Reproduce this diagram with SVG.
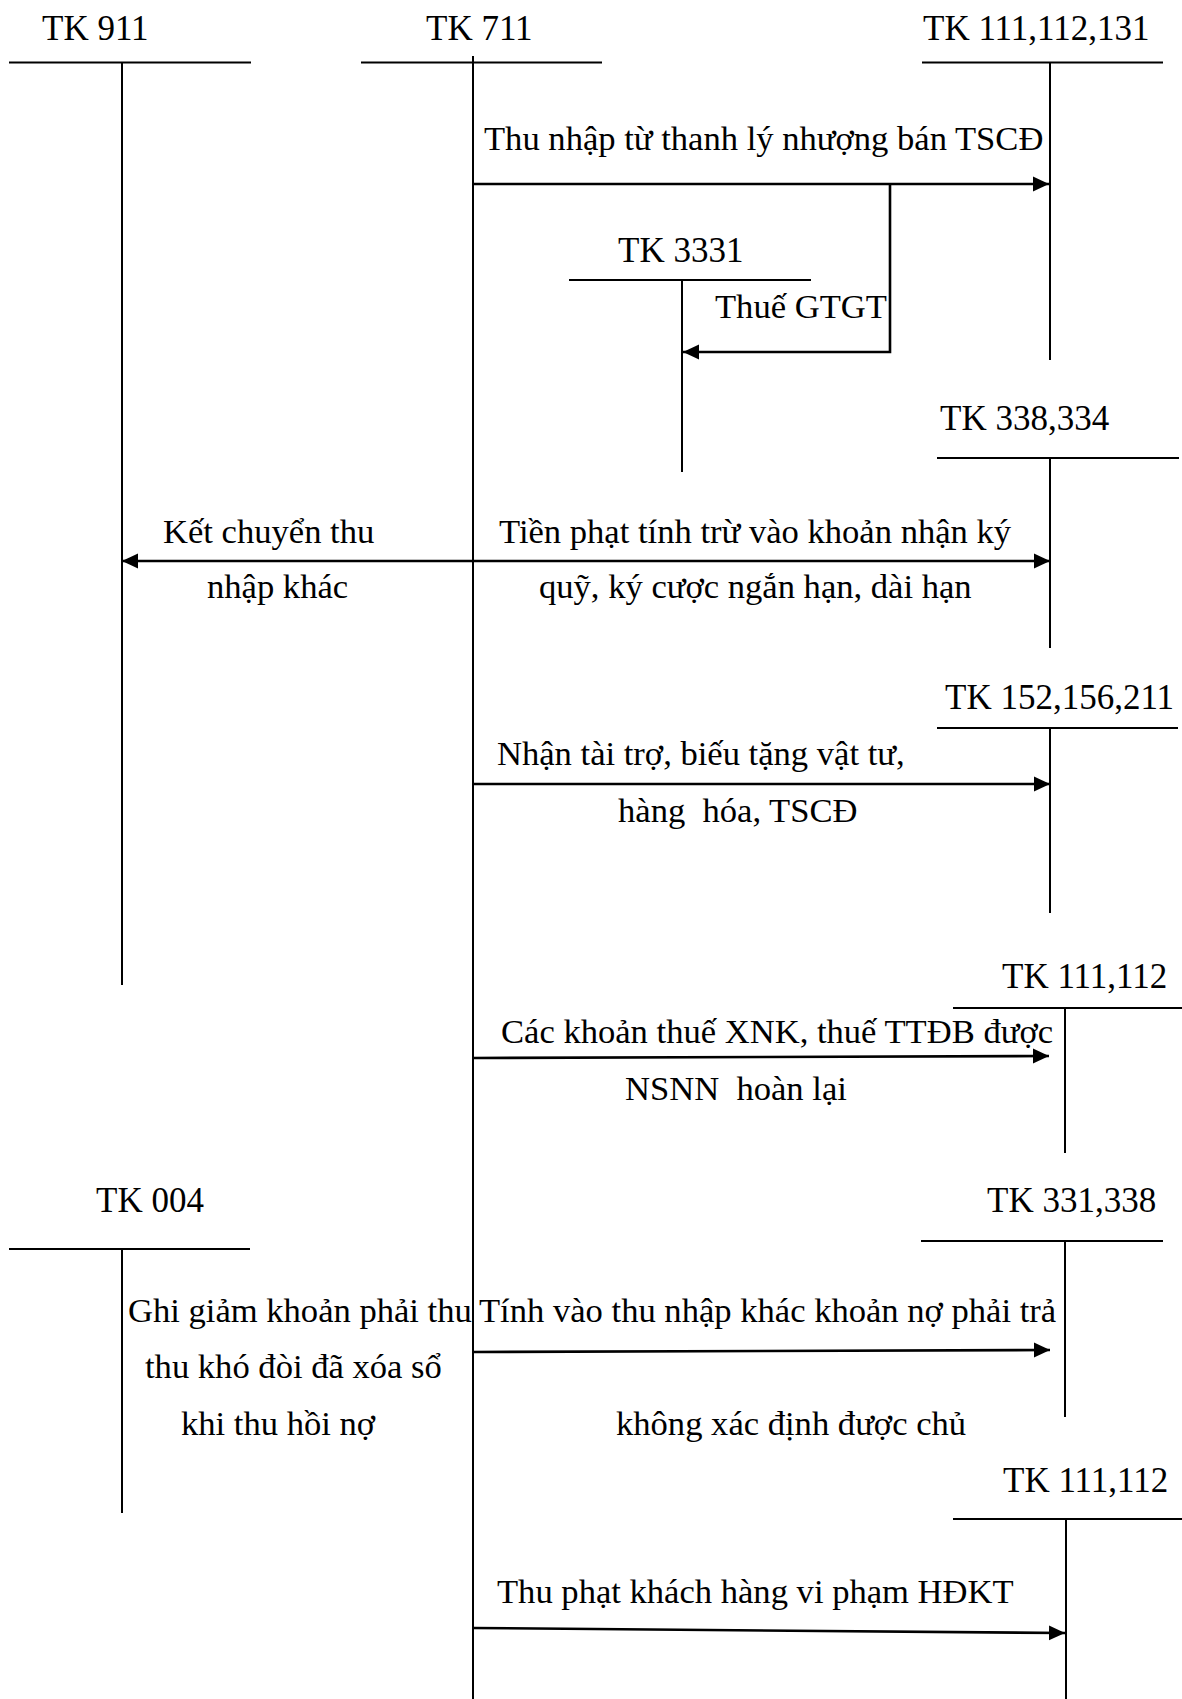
<svg xmlns="http://www.w3.org/2000/svg" width="1182" height="1699" viewBox="0 0 1182 1699">
<style>
text{font-family:"Liberation Serif","Times New Roman",serif;font-size:35px;fill:#000;white-space:pre}
#labels text{font-size:34.6px}
.t line{stroke:#000;stroke-width:2}
.c line,.c path{stroke:#000;stroke-width:2.6;fill:none}
</style>
<defs>
<marker id="ah" markerUnits="userSpaceOnUse" markerWidth="16" markerHeight="16" viewBox="0 0 15 14" refX="15" refY="7" orient="auto">
<path d="M0,0 L15,7 L0,14 z" fill="#000"/>
</marker>
</defs>
<rect width="1182" height="1699" fill="#fff"/>
<g id="tk911" class="t"><text x="42" y="40">TK 911</text><line x1="9" y1="62.5" x2="251" y2="62.5"/><line x1="122" y1="62.5" x2="122" y2="985"/></g>
<g id="tk711" class="t"><text x="426" y="40">TK 711</text><line x1="361" y1="62.5" x2="602" y2="62.5"/><line x1="473" y1="56" x2="473" y2="1699"/></g>
<g id="tk111_112_131" class="t"><text x="923" y="40">TK 111,112,131</text><line x1="922" y1="62.5" x2="1163" y2="62.5"/><line x1="1050" y1="62.5" x2="1050" y2="360"/></g>
<g id="tk3331" class="t"><text x="618" y="262">TK 3331</text><line x1="569" y1="280" x2="811" y2="280"/><line x1="682" y1="280" x2="682" y2="472"/></g>
<g id="tk338_334" class="t"><text x="940" y="430">TK 338,334</text><line x1="937" y1="458" x2="1179" y2="458"/><line x1="1050" y1="458" x2="1050" y2="648"/></g>
<g id="tk152_156_211" class="t"><text x="945" y="709">TK 152,156,211</text><line x1="937" y1="728" x2="1178" y2="728"/><line x1="1050" y1="728" x2="1050" y2="913"/></g>
<g id="tk111_112_a" class="t"><text x="1002" y="988">TK 111,112</text><line x1="953" y1="1008" x2="1182" y2="1008"/><line x1="1065" y1="1008" x2="1065" y2="1153"/></g>
<g id="tk004" class="t"><text x="96" y="1212">TK 004</text><line x1="9" y1="1249" x2="250" y2="1249"/><line x1="122" y1="1249" x2="122" y2="1513"/></g>
<g id="tk331_338" class="t"><text x="987" y="1212">TK 331,338</text><line x1="921" y1="1241" x2="1163" y2="1241"/><line x1="1065" y1="1241" x2="1065" y2="1417"/></g>
<g id="tk111_112_b" class="t"><text x="1003" y="1492">TK 111,112</text><line x1="953" y1="1519" x2="1182" y2="1519"/><line x1="1066" y1="1519" x2="1066" y2="1699"/></g>
<g id="connectors" class="c">
<line x1="473" y1="184" x2="1049" y2="184" marker-end="url(#ah)"/>
<path d="M890,184 V352 H683" marker-end="url(#ah)"/>
<line x1="473" y1="561" x2="122" y2="561" marker-end="url(#ah)"/>
<line x1="473" y1="561" x2="1050" y2="561" marker-end="url(#ah)"/>
<line x1="473" y1="784" x2="1050" y2="784" marker-end="url(#ah)"/>
<line x1="473" y1="1058" x2="1049" y2="1056" marker-end="url(#ah)"/>
<line x1="473" y1="1352" x2="1050" y2="1350" marker-end="url(#ah)"/>
<line x1="473" y1="1628" x2="1065" y2="1633" marker-end="url(#ah)"/>
</g>
<g id="labels">
<text x="484" y="150">Thu nhập từ thanh lý nhượng bán TSCĐ</text>
<text x="715" y="318">Thuế GTGT</text>
<text x="163" y="543">Kết chuyển thu</text>
<text x="207" y="598">nhập khác</text>
<text x="499" y="543">Tiền phạt tính trừ vào khoản nhận ký</text>
<text x="539" y="598">quỹ, ký cược ngắn hạn, dài hạn</text>
<text x="497" y="765">Nhận tài trợ, biếu tặng vật tư,</text>
<text x="618" y="822">hàng  hóa, TSCĐ</text>
<text x="501" y="1043">Các khoản thuế XNK, thuế TTĐB được</text>
<text x="625" y="1100">NSNN  hoàn lại</text>
<text x="128" y="1322">Ghi giảm khoản phải thu</text>
<text x="145" y="1378">thu khó đòi đã xóa sổ</text>
<text x="181" y="1435">khi thu hồi nợ</text>
<text x="479" y="1322">Tính vào thu nhập khác khoản nợ phải trả</text>
<text x="616" y="1435">không xác định được chủ</text>
<text x="497" y="1603">Thu phạt khách hàng vi phạm HĐKT</text>
</g>
</svg>
